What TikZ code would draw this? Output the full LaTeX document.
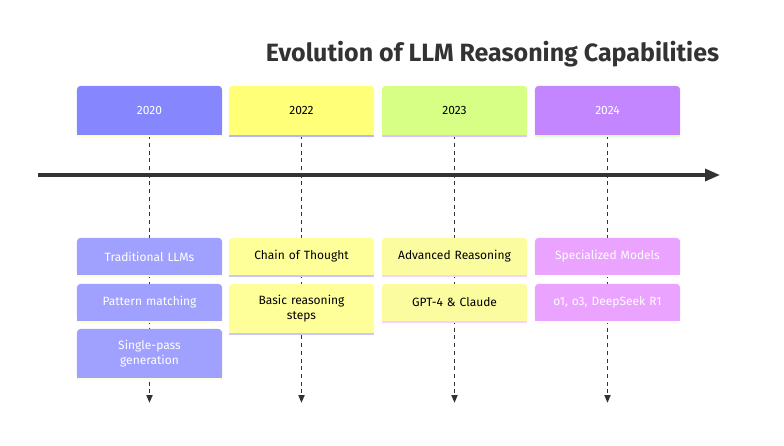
\documentclass[tikz,border=0pt]{standalone}
\usepackage{fontspec}
\setmainfont{Fira Sans}
\usetikzlibrary{arrows.meta,backgrounds}
\definecolor{ink}{HTML}{333333}
\definecolor{hA}{HTML}{8686FF}
\definecolor{tA}{HTML}{A0A0FF}
\definecolor{sA}{HTML}{FFFFCC}
\definecolor{hB}{HTML}{FFFF78}
\definecolor{tB}{HTML}{FFFF99}
\definecolor{sB}{HTML}{B4B4FF}
\definecolor{hC}{HTML}{D7FF86}
\definecolor{tC}{HTML}{FBFB9F}
\definecolor{sC}{HTML}{D8C4FF}
\definecolor{tCs}{HTML}{F6D2FF}
\definecolor{hD}{HTML}{C386FF}
\definecolor{tD}{HTML}{EAA3FF}
\definecolor{sD}{HTML}{DDFFCC}
\definecolor{sAt}{HTML}{FFFFD6}
\definecolor{sBt}{HTML}{C8C8FF}
\newcommand\boxfill[3]{%
  \fill[#2,rounded corners=4pt] (#1.south west) rectangle (#1.north east);
  \fill[#2] (#1.south west) rectangle ([yshift=6pt]#1.south east);
  \draw[#3,line width=1.6pt] ([yshift=-0.8pt]#1.south west) -- ([yshift=-0.8pt]#1.south east);}
\begin{document}
\begin{tikzpicture}[x=1pt,y=-1pt,
  card/.style={minimum width=145pt,inner sep=0pt,align=center,text width=138pt,
    font=\fontsize{12}{14.5}\selectfont},
  hdr/.style={card,minimum height=49pt},
  one/.style={card,minimum height=37pt},
  two/.style={card,minimum height=49pt},
  dl/.style={draw=ink,line width=1.8pt,dash pattern=on 4pt off 3.7pt,
    -{Triangle[length=8pt,width=6pt]}},
  axis/.style={draw=ink,line width=3.3pt,-{Triangle[length=15pt,width=12pt]}}]
\useasboundingbox (0,0) rectangle (784,445);
\node[font=\bfseries\fontsize{25}{30}\selectfont,text=ink] (title) at (492.5,54) {Evolution of LLM Reasoning Capabilities};
% headers
\node[hdr,text=white] (h1) at (149.5,110.5) {2020};
\node[hdr,text=black] (h2) at (301.5,110.5) {2022};
\node[hdr,text=black] (h3) at (454.5,110.5) {2023};
\node[hdr,text=white] (h4) at (607.5,110.5) {2024};
% tasks
\node[one,text=white] (a1) at (149.5,256.5) {Traditional LLMs};
\node[one,text=white] (a2) at (149.5,302.5) {Pattern matching};
\node[two,text=white] (a3) at (149.5,353.5) {Single-pass\\generation};
\node[one,text=black] (b1) at (301.5,256.5) {Chain of Thought};
\node[two,text=black] (b2) at (301.5,308.5) {Basic reasoning\\steps};
\node[one,text=black] (c1) at (454.5,256.5) {Advanced Reasoning};
\node[one,text=black] (c2) at (454.5,302.5) {GPT-4 \& Claude};
\node[one,text=white] (d1) at (607.5,256.5) {Specialized Models};
\node[one,text=white] (d2) at (607.5,302.5) {o1, o3, DeepSeek R1};
\coordinate (e1) at (149.5,403);
\coordinate (e2) at (301.5,403);
\coordinate (e3) at (454.5,403);
\coordinate (e4) at (607.5,403);
\coordinate (ts) at (38,175);
\coordinate (te) at (720,175);
\begin{scope}[on background layer]
  \draw[dl] (h1.south) -- (e1);
  \draw[dl] (h2.south) -- (e2);
  \draw[dl] (h3.south) -- (e3);
  \draw[dl] (h4.south) -- (e4);
  \draw[axis] (ts) -- (te);
  \boxfill{h1}{hA}{sA}
  \boxfill{h2}{hB}{sB}
  \boxfill{h3}{hC}{sC}
  \boxfill{h4}{hD}{sD}
  \boxfill{a1}{tA}{sAt}
  \boxfill{a2}{tA}{sAt}
  \boxfill{a3}{tA}{sAt}
  \boxfill{b1}{tB}{sBt}
  \boxfill{b2}{tB}{sBt}
  \boxfill{c1}{tC}{tCs}
  \boxfill{c2}{tC}{tCs}
  \boxfill{d1}{tD}{white}
  \boxfill{d2}{tD}{white}
\end{scope}
\end{tikzpicture}
\end{document}
